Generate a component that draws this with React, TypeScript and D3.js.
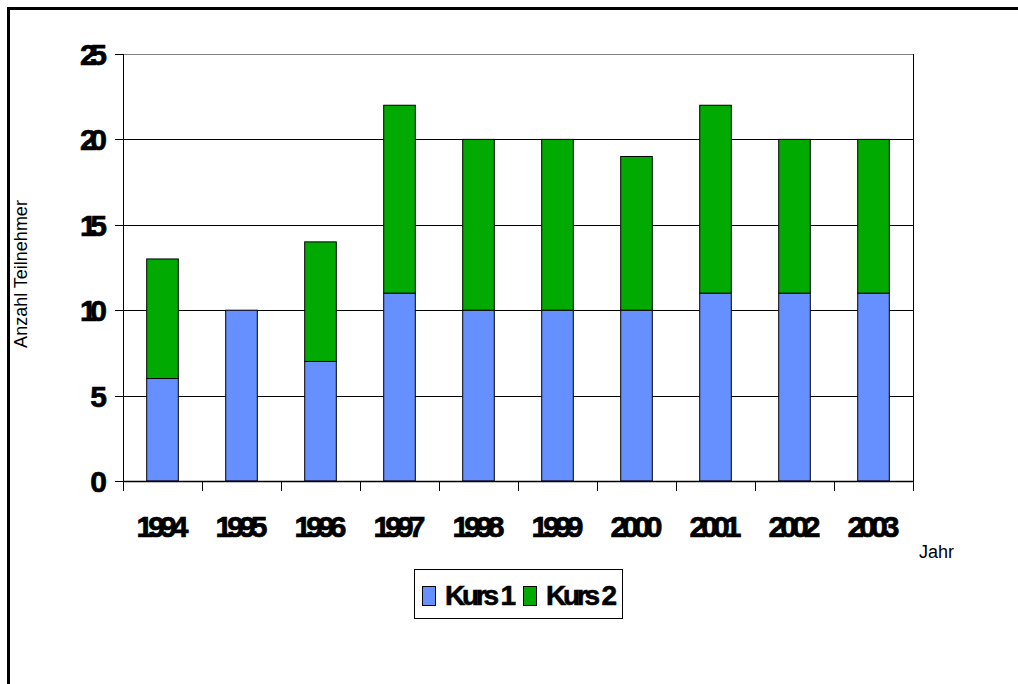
import React from "react";
import * as d3 from "d3";

const years = ["1994", "1995", "1996", "1997", "1998", "1999", "2000", "2001", "2002", "2003"];
const kurs1 = [6, 10, 7, 11, 10, 10, 10, 11, 11, 11];
const kurs2 = [7, 0, 7, 11, 10, 10, 9, 11, 9, 9];
const yTicks = [0, 5, 10, 15, 20, 25];
const seriesNames = ["Kurs 1", "Kurs 2"];
const colors = ["#6690FF", "#00AA00"];

export default function App() {
  const W = 1018, H = 684;
  const left = 123, right = 913, top = 54, bottom = 481;
  const x = d3.scaleBand<string>().domain(years).range([left, right]).paddingInner(0.6).paddingOuter(0.3);
  const xEdges = d3.scaleLinear().domain([0, years.length]).range([left, right]);
  const y = d3.scaleLinear().domain([0, 25]).range([bottom, top]);
  const data = years.map((yr, i) => ({ yr, k1: kurs1[i], k2: kurs2[i] }));
  const stack = d3.stack<any>().keys(["k1", "k2"])(data);
  const font = "'Liberation Sans', Arial, sans-serif";

  return (
    <svg width={W} height={H} style={{ position: "absolute", left: 0, top: 0 }} xmlns="http://www.w3.org/2000/svg">
      <rect x={0} y={0} width={W} height={H} fill="#fff" />
      <rect x={8.5} y={8.5} width={1100} height={1100} fill="none" stroke="#000" strokeWidth={3} />
      {yTicks.map((t) => (
        <line key={t} x1={left - 8} x2={right} y1={Math.round(y(t)) + 0.5} y2={Math.round(y(t)) + 0.5} stroke="#000" strokeWidth={1} />
      ))}
      <line x1={left} x2={right} y1={top + 0.5} y2={top + 0.5} stroke="#808080" />
      <line x1={right + 0.5} x2={right + 0.5} y1={top} y2={bottom} stroke="#000" />
      {stack.map((s, si) =>
        s.map((d, i) => {
          if (d[1] - d[0] <= 0) return null;
          return (
            <rect
              key={si + "-" + i}
              x={(x(years[i]) as number)}
              y={y(d[1])}
              width={x.bandwidth()}
              height={y(d[0]) - y(d[1])}
              fill={colors[si]}
              stroke="#000"
              strokeWidth={1}
            />
          );
        })
      )}
      <line x1={left + 0.5} x2={left + 0.5} y1={top} y2={bottom} stroke="#000" />
      <line x1={left} x2={right + 1} y1={bottom + 0.5} y2={bottom + 0.5} stroke="#000" strokeWidth={1.5} />
      {d3.range(years.length + 1).map((i) => (
        <line key={i} x1={Math.round(xEdges(i)) + 0.5} x2={Math.round(xEdges(i)) + 0.5} y1={bottom} y2={bottom + 10} stroke="#000" />
      ))}
      {yTicks.map((t) => (
        <text
          key={t}
          x={107}
          y={y(t) + 11}
          textAnchor="end"
          fontFamily={font}
          fontWeight="bold"
          fontSize={30}
          stroke="#000"
          strokeWidth={0.7}
          textLength={String(t).length * 13.5}
          lengthAdjust="spacing"
        >
          {t}
        </text>
      ))}
      {years.map((yr) => (
        <text
          key={yr}
          x={(x(yr) as number) + x.bandwidth() / 2}
          y={537}
          textAnchor="middle"
          fontFamily={font}
          fontWeight="bold"
          fontSize={30}
          stroke="#000"
          strokeWidth={0.7}
          textLength={52}
          lengthAdjust="spacing"
        >
          {yr}
        </text>
      ))}
      <text x={919} y={558} fontFamily={font} fontSize={18}>Jahr</text>
      <text x={0} y={0} transform="translate(27,274) rotate(-90)" textAnchor="middle" fontFamily={font} fontSize={18}>
        Anzahl Teilnehmer
      </text>
      <rect x={414.5} y={569.5} width={208} height={49} fill="#fff" stroke="#000" strokeWidth={1} />
      {seriesNames.map((n, i) => {
        const lx = 422 + i * 101;
        return (
          <g key={n}>
            <rect x={lx + 0.5} y={586.5} width={13} height={19} fill={colors[i]} stroke="#000" />
            <text x={lx + 23} y={605} fontFamily={font} fontWeight="bold" fontSize={28} stroke="#000" strokeWidth={0.6} textLength={71} lengthAdjust="spacing">
              {n}
            </text>
          </g>
        );
      })}
    </svg>
  );
}
